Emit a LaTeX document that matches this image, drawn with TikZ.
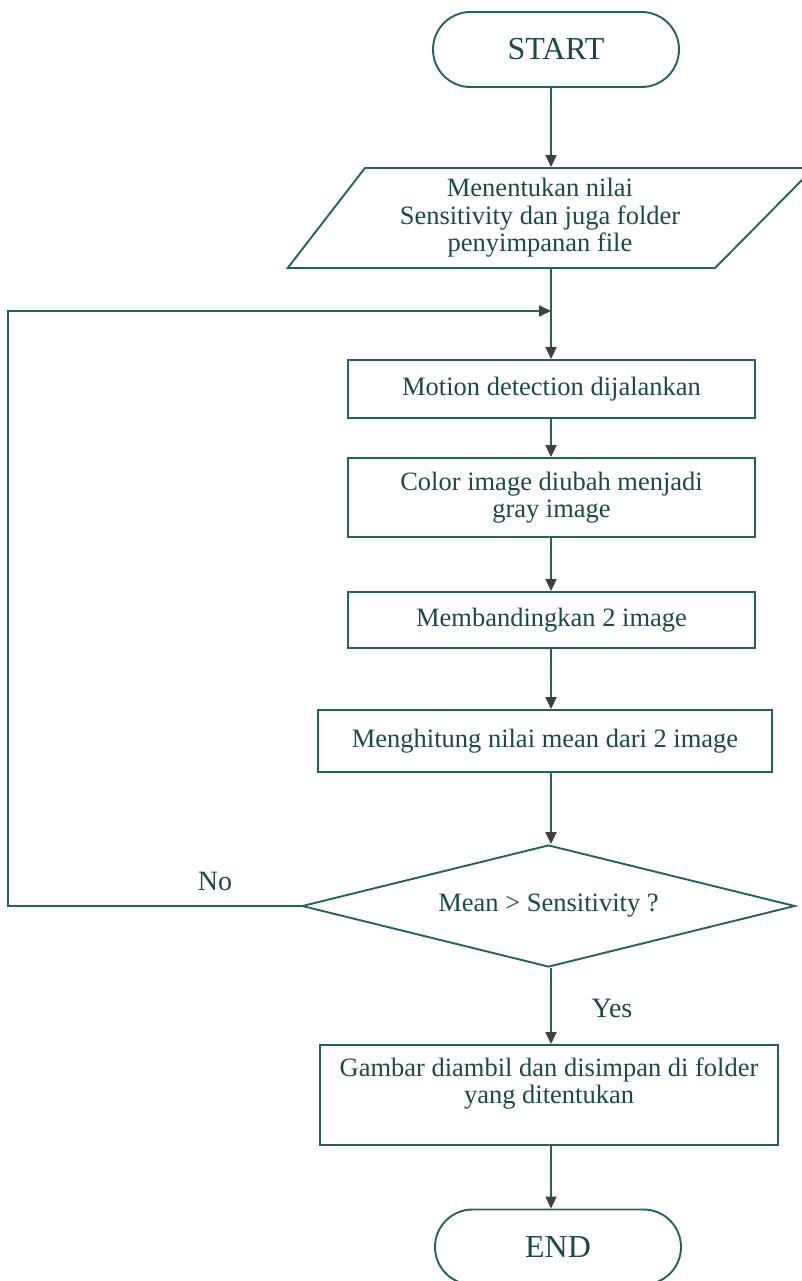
\documentclass[tikz,border=0pt]{standalone}
\usepackage{fontspec}
\setmainfont{Liberation Serif}
\usetikzlibrary{shapes.geometric,shapes.misc,arrows.meta}
\definecolor{flowline}{RGB}{38,98,92}
\definecolor{flowtext}{RGB}{28,72,72}
\definecolor{tipgray}{RGB}{64,64,64}
\begin{document}
\begin{tikzpicture}[x=1pt,y=-1pt,
  every node/.style={text=flowtext, font=\fontsize{26.5}{27.5}\selectfont},
  shape base/.style={draw=flowline, line width=1.9pt, inner sep=0pt, align=center},
  terminal/.style={shape base, rounded rectangle, minimum width=246pt, minimum height=75pt, font=\fontsize{32}{34}\selectfont},
  io/.style={shape base, trapezium, trapezium stretches=true, trapezium left angle=52, trapezium right angle=135, minimum width=528pt, minimum height=100pt},
  process/.style={shape base, rectangle},
  decision/.style={shape base, diamond, aspect=4, minimum width=493pt, minimum height=122pt},
  flow/.style={draw=flowline, line width=1.9pt, -{Triangle[length=12pt,width=11pt,color=tipgray]}},
  lbl/.style={font=\fontsize{28}{30}\selectfont}
]
\useasboundingbox (0,0) rectangle (801,1281);

% guide coordinates for the main vertical and the loop-back rail
\coordinate (spine) at (551,0);
\coordinate (join) at (551,311);
\coordinate (rail) at (8,0);

% blocks
\node[terminal] (start) at (556,49.5) {START};
\node[io] (input) at (540,218) {Menentukan nilai\\Sensitivity dan juga folder\\penyimpanan file};
\node[process, minimum width=407pt, minimum height=58pt] (motion) at (551.5,389) {Motion detection dijalankan};
\node[process, minimum width=407pt, minimum height=79pt] (gray) at (551.5,497.5) {Color image diubah menjadi\\gray image};
\node[process, minimum width=407pt, minimum height=56pt] (compare) at (551.5,620) {Membandingkan 2 image};
\node[process, minimum width=454pt, minimum height=62pt] (mean) at (545,741) {Menghitung nilai mean dari 2 image};
\node[decision] (check) at (548.5,906) {Mean > Sensitivity ?};
\node[process, minimum width=458pt, minimum height=100pt] (save) at (549,1095) {};
\node[anchor=north, align=center] (savetext) at ([yshift=-10pt]save.north) {Gambar diambil dan disimpan di folder\\yang ditentukan};
\node[terminal] (end) at (558,1247) {END};

% branch labels
\node[lbl] (no) at (215,881) {No};
\node[lbl] (yes) at (612,1008) {Yes};

% connectors
\draw[flow] (start.south -| spine) -- (input.north -| spine);
\draw[flow] (input.south -| spine) -- (motion.north -| spine);
\draw[flow] (motion.south -| spine) -- (gray.north -| spine);
\draw[flow] (gray.south -| spine) -- (compare.north -| spine);
\draw[flow] (compare.south -| spine) -- (mean.north -| spine);
\draw[flow] (mean.south -| spine) -- (check.north -| spine);
\draw[flow] (check.west) -- (check.west -| rail) |- (join);
\draw[flow] (check.south -| spine) -- (save.north -| spine);
\draw[flow] (save.south -| spine) -- (end.north -| spine);
\end{tikzpicture}
\end{document}
